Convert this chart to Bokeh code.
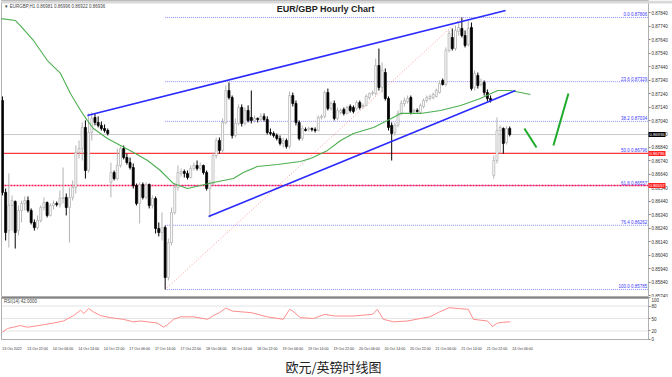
from bokeh.plotting import figure
from bokeh.layouts import column
from bokeh.models import (ColumnDataSource, Span, Label, FixedTicker, Range1d, Title,
                          PrintfTickFormatter, GridBox)
from bokeh.embed import file_html
from bokeh.resources import INLINE
from bokeh.core.properties import value

# ---------------- data (EUR/GBP hourly, 13 Oct 14:00 -> 24 Oct 05:00) ----------------
opens = [0.87189,0.86506,0.86223,0.86409,0.86439,0.86223,0.86372,0.86424,0.86446,0.86372,
         0.86283,0.86245,0.86297,0.86394,0.86431,0.86335,0.86409,0.86424,0.86416,0.86461,
         0.86469,0.86394,0.86469,0.86543,0.86803,0.86832,0.86989,0.86669,0.86951,0.87063,
         0.87026,0.87004,0.86981,0.86966,0.86580,0.86654,0.86609,0.86706,0.86832,0.86765,
         0.86728,0.86691,0.86557,0.86424,0.86565,0.86469,0.86565,0.86409,0.86461,0.86238,
         0.86208,0.86245,0.85874,0.86134,0.86357,0.86543,0.86647,0.86661,0.86647,0.86617,
         0.86684,0.86706,0.86684,0.86706,0.86654,0.86535,0.86572,0.86780,0.86892,0.86818,
         0.87026,0.87263,0.87211,0.86929,0.87019,0.87137,0.87019,0.87115,0.87063,0.87041,
         0.87056,0.87048,0.87071,0.87048,0.86951,0.86944,0.86929,0.86907,0.86870,0.86892,
         0.86847,0.87226,0.87167,0.87026,0.86907,0.86974,0.86974,0.86981,0.86974,0.86966,
         0.87063,0.87071,0.87248,0.87130,0.87167,0.87056,0.87100,0.87122,0.87093,0.87145,
         0.87137,0.87130,0.87174,0.87145,0.87152,0.87211,0.87241,0.87241,0.87449,0.87286,
         0.87397,0.87204,0.87004,0.86951,0.87004,0.87093,0.87167,0.87182,0.87211,0.87108,
         0.87115,0.87100,0.87145,0.87189,0.87204,0.87211,0.87219,0.87248,0.87338,0.87308,
         0.87560,0.87657,0.87575,0.87702,0.87724,0.87672,0.87605,0.87731,0.87286,0.87375,
         0.87308,0.87323,0.87248,0.87204,0.86632,0.86743,0.86966,0.86981,0.86877,0.86981]
highs = [0.87219,0.86535,0.86647,0.86484,0.86446,0.86409,0.86446,0.86476,0.86476,0.86387,
         0.86305,0.86335,0.86409,0.86469,0.86439,0.86424,0.86446,0.86439,0.86520,0.86691,
         0.86498,0.86543,0.86595,0.86855,0.86892,0.87026,0.87041,0.87093,0.87100,0.87093,
         0.87071,0.87033,0.87011,0.86981,0.86728,0.86669,0.86832,0.86847,0.86855,0.86795,
         0.86765,0.86721,0.86572,0.86580,0.86580,0.86580,0.86572,0.86484,0.86476,0.86283,
         0.86357,0.86260,0.86164,0.86394,0.86572,0.86706,0.86684,0.86676,0.86669,0.86706,
         0.86728,0.86743,0.86728,0.86713,0.86669,0.86595,0.86803,0.86914,0.86914,0.87056,
         0.87300,0.87323,0.87226,0.87056,0.87160,0.87160,0.87137,0.87152,0.87263,0.87078,
         0.87063,0.87093,0.87093,0.87071,0.86981,0.86959,0.86944,0.86929,0.86914,0.86907,
         0.87256,0.87248,0.87189,0.87041,0.87004,0.86989,0.86996,0.86989,0.86989,0.87078,
         0.87085,0.87263,0.87278,0.87182,0.87189,0.87137,0.87130,0.87137,0.87152,0.87160,
         0.87152,0.87189,0.87189,0.87167,0.87234,0.87248,0.87263,0.87501,0.87575,0.87471,
         0.87427,0.87219,0.87026,0.87026,0.87115,0.87189,0.87211,0.87226,0.87226,0.87130,
         0.87130,0.87167,0.87204,0.87226,0.87234,0.87248,0.87278,0.87338,0.87352,0.87583,
         0.87709,0.87724,0.87746,0.87768,0.87806,0.87709,0.87783,0.87768,0.87412,0.87397,
         0.87352,0.87338,0.87271,0.87226,0.86780,0.87063,0.87004,0.86989,0.86996,0.86996]
lows = [0.86484,0.86149,0.86097,0.86223,0.86089,0.86186,0.86283,0.86372,0.86357,0.86268,
        0.86223,0.86231,0.86283,0.86372,0.86320,0.86327,0.86379,0.86401,0.86394,0.86424,
        0.86335,0.86134,0.86446,0.86498,0.86758,0.86743,0.86609,0.86654,0.86892,0.87004,
        0.86989,0.86966,0.86951,0.86929,0.86469,0.86595,0.86595,0.86691,0.86751,0.86713,
        0.86676,0.86535,0.86409,0.86275,0.86454,0.86454,0.86387,0.86387,0.86201,0.86179,
        0.86149,0.85785,0.85852,0.86112,0.86342,0.86520,0.86624,0.86617,0.86602,0.86609,
        0.86669,0.86669,0.86669,0.86639,0.86520,0.86320,0.86557,0.86758,0.86795,0.86803,
        0.87011,0.87196,0.86907,0.86914,0.87004,0.86996,0.87004,0.87026,0.87019,0.87026,
        0.87026,0.87033,0.87033,0.86936,0.86929,0.86914,0.86892,0.86855,0.86840,0.86832,
        0.86832,0.87145,0.87004,0.86892,0.86892,0.86959,0.86959,0.86959,0.86951,0.86959,
        0.87048,0.87056,0.87115,0.87115,0.87041,0.87041,0.87085,0.87078,0.87085,0.87100,
        0.87093,0.87115,0.87122,0.87130,0.87145,0.87196,0.87226,0.87226,0.87263,0.87248,
        0.87189,0.86966,0.86743,0.86929,0.86989,0.87078,0.87145,0.87167,0.87085,0.87093,
        0.87100,0.87093,0.87130,0.87174,0.87189,0.87196,0.87211,0.87241,0.87300,0.87293,
        0.87546,0.87560,0.87560,0.87672,0.87657,0.87583,0.87590,0.87263,0.87263,0.87278,
        0.87293,0.87226,0.87182,0.87174,0.86609,0.86721,0.86795,0.86795,0.86862,0.86922]
closes = [0.86506,0.86208,0.86409,0.86446,0.86208,0.86372,0.86424,0.86446,0.86372,0.86283,
          0.86245,0.86297,0.86394,0.86431,0.86335,0.86409,0.86424,0.86416,0.86461,0.86469,
          0.86394,0.86469,0.86543,0.86803,0.86832,0.86989,0.86669,0.86951,0.87056,0.87026,
          0.87004,0.86981,0.86966,0.86944,0.86654,0.86609,0.86706,0.86832,0.86765,0.86728,
          0.86691,0.86557,0.86424,0.86565,0.86469,0.86565,0.86409,0.86461,0.86238,0.86208,
          0.86245,0.85874,0.86134,0.86357,0.86543,0.86654,0.86661,0.86647,0.86617,0.86684,
          0.86706,0.86684,0.86706,0.86654,0.86535,0.86572,0.86780,0.86892,0.86818,0.87026,
          0.87263,0.87211,0.86929,0.87019,0.87137,0.87019,0.87115,0.87041,0.87041,0.87056,
          0.87048,0.87071,0.87048,0.86951,0.86944,0.86929,0.86907,0.86870,0.86892,0.86847,
          0.87226,0.87167,0.87026,0.86907,0.86981,0.86966,0.86981,0.86974,0.86966,0.87063,
          0.87071,0.87248,0.87130,0.87167,0.87056,0.87115,0.87115,0.87093,0.87137,0.87115,
          0.87108,0.87174,0.87137,0.87152,0.87219,0.87241,0.87248,0.87449,0.87286,0.87412,
          0.87204,0.86989,0.86944,0.87004,0.87093,0.87167,0.87189,0.87204,0.87100,0.87115,
          0.87108,0.87152,0.87189,0.87211,0.87219,0.87234,0.87263,0.87315,0.87308,0.87560,
          0.87687,0.87575,0.87709,0.87731,0.87672,0.87598,0.87724,0.87278,0.87390,0.87300,
          0.87330,0.87248,0.87204,0.87189,0.86743,0.86966,0.86989,0.86870,0.86981,0.86936]

# moving average (green) sampled along its path: bar position, price
ma_bar = [-0.6, 4.1, 5.6, 9.7, 14.1, 18.2, 21.3, 24.5, 26.6, 28.5, 32.9, 37.0, 41.1, 45.5, 49.5,
          53.6, 58.0, 62.1, 66.1, 72.4, 75.5, 79.9, 86.2, 93.4, 96.6, 101.9, 106.0, 110.0, 116.3,
          120.7, 124.8, 131.0, 137.3, 143.6, 149.8, 155.2, 159.2, 165.5]
ma_val = [0.87798, 0.87783, 0.87746, 0.87635, 0.87486, 0.87390, 0.87241, 0.87115, 0.87041, 0.86981,
          0.86907, 0.86855, 0.86803, 0.86743, 0.86669, 0.86572, 0.86535, 0.86557, 0.86580, 0.86609,
          0.86654, 0.86699, 0.86713, 0.86736, 0.86758, 0.86818, 0.86892, 0.86944, 0.86989, 0.87041,
          0.87093, 0.87093, 0.87115, 0.87152, 0.87204, 0.87263, 0.87263, 0.87234]

# RSI(14) sampled along its path
rsi_bar = [0, 1.6, 3.4, 5.6, 7.8, 9.7, 12.9, 16, 19.1, 22.3, 24.5, 25.5, 27, 28.5, 30.7, 33.9, 37.9,
           41, 43.3, 45.5, 48.6, 50.5, 51.7, 53.6, 55.8, 59.9, 64.3, 66.1, 68, 70, 72, 75, 78, 83,
           88, 90, 91, 93.4, 97.5, 101, 104, 110, 116, 117.5, 119.4, 122.6, 127, 131, 134, 137,
           140, 143, 146, 147.6, 152, 153.6, 155.2, 157, 159.2]
rsi_val = [17, 26, 29, 33, 29, 31, 35, 39, 44, 57, 70, 62, 74, 66, 57, 52, 48, 42, 44, 42, 39, 29,
           35, 48, 54, 54, 48, 57, 64, 75, 68, 66, 64, 54, 48, 72, 68, 52, 50, 60, 56, 56, 60, 72,
           48, 42, 44, 50, 54, 66, 76, 74, 72, 48, 44, 31, 39, 41, 42]
rsi_levels = [20, 50, 80]
rsi_ticks = [0, 20, 50, 80, 100]

# Fibonacci retracement (low 17 Oct -> high 21 Oct)
fib_ratio = [0.0, 23.6, 38.2, 50.0, 61.8, 76.4, 100.0]
fib_price = [0.87806, 0.87329, 0.87034, 0.86796, 0.86557, 0.86262, 0.85785]
fib_from_bar = 51
fib_to_bar = 144

# trend channel lines (bar, price)
chan_up_bar = [26.6, 157.7]
chan_up_val = [0.87077, 0.87858]
chan_lo_bar = [64.6, 160.8]
chan_lo_val = [0.86327, 0.87263]

# projected path arrows
arrow1_bar = [163.6, 167.4]
arrow1_val = [0.86981, 0.86840]
arrow2_bar = [172.7, 177.4]
arrow2_val = [0.86855, 0.87241]

support_solid = 0.86796
support_dash = 0.86557

price_ticks = [0.8574, 0.8584, 0.8594, 0.8604, 0.8614, 0.8624, 0.8634, 0.8644, 0.8654, 0.8664, 0.8674,
               0.8684, 0.8694, 0.8704, 0.8714, 0.8724, 0.8734, 0.8744, 0.8754, 0.8764, 0.8774, 0.8784]
x_label_bar = [0, 8, 16, 24, 32, 40, 48, 56, 64, 72, 80, 88, 96, 104, 112, 120, 128, 136, 144, 152, 160]
x_labels = ["13 Oct 2022", "13 Oct 22:00", "14 Oct 06:00", "14 Oct 14:00", "14 Oct 22:00",
            "17 Oct 06:00", "17 Oct 14:00", "17 Oct 22:00", "18 Oct 06:00", "18 Oct 14:00",
            "18 Oct 22:00", "19 Oct 06:00", "19 Oct 14:00", "19 Oct 22:00", "20 Oct 06:00",
            "20 Oct 14:00", "20 Oct 22:00", "21 Oct 06:00", "21 Oct 14:00", "21 Oct 22:00",
            "24 Oct 06:00"]

# ---------------- layout ----------------
X0, X1 = -0.3, 202.5
P_TOP, P_BOT = 0.87932, 0.857253
HEADER_BOTTOM = 0.87910
FONT = value("Liberation Sans")

xr = Range1d(X0, X1)
yr = Range1d(P_BOT, P_TOP)
p1 = figure(width=672, height=297, x_range=xr, y_range=yr,
            x_axis_location=None, y_axis_location="right", toolbar_location=None,
            output_backend="svg", min_border_left=1, min_border_right=24,
            min_border_top=0, min_border_bottom=0)
p1.grid.visible = False
p1.outline_line_color = "#b0b0b0"
p1.background_fill_color = "white"

# current price line
last_close = closes[-1]
p1.line([X0, X1], [last_close, last_close], color="#c8c8c8", line_width=1)

# fib lines
for r, lv in zip(fib_ratio, fib_price):
    p1.line([fib_from_bar, X1], [lv, lv], color="#8c8cff", line_width=1, line_dash="1 1")
p1.line([fib_from_bar, fib_to_bar], [fib_price[-1], fib_price[0]], color="#ff9a9a",
        line_width=1, line_dash="1 2")
fib_src = ColumnDataSource(dict(x=[X1 - 0.4] * len(fib_ratio), y=fib_price,
                                t=["%.1f %.5f" % (r, lv) for r, lv in zip(fib_ratio, fib_price)]))
p1.text(x="x", y="y", text="t", source=fib_src, text_align="right", text_baseline="bottom",
        text_font_size="4.5px", text_color="#3c3cff", text_font=FONT)

# red horizontal lines
p1.line([X0, X1], [support_solid, support_solid], color="#ff3b3b", line_width=1.3)
p1.line([X0, X1], [support_dash, support_dash], color="#ff1050", line_width=1.5, line_dash="2 1")

# candles
n = len(opens)
bx = list(range(n))
up = [c >= o for o, c in zip(opens, closes)]
def pick(arr, flag):
    return [a for a, f in zip(arr, up) if f == flag]
for flag, fill, edge in [(True, "white", "#b4b4b4"), (False, "black", "black")]:
    src = ColumnDataSource(dict(x=pick(bx, flag), o=pick(opens, flag), h=pick(highs, flag),
                                l=pick(lows, flag), c=pick(closes, flag)))
    p1.segment(x0="x", y0="h", x1="x", y1="l", source=src, color=edge, line_width=1)
    p1.vbar(x="x", width=0.62, top="o", bottom="c", source=src, fill_color=fill,
            line_color=edge, line_width=0.8)

# moving average
p1.line(ma_bar, ma_val, color="#4caf50", line_width=1.1)

# channel
p1.line(chan_up_bar, chan_up_val, color="#2a2aff", line_width=1.6)
p1.line(chan_lo_bar, chan_lo_val, color="#2a2aff", line_width=1.6)

# arrows
p1.line(arrow1_bar, arrow1_val, color="#1faa2a", line_width=2)
p1.line(arrow2_bar, arrow2_val, color="#1faa2a", line_width=2)

# texts
p1.add_layout(Label(x=0.5, y=0.87891, text="▼ EURGBP,H1  %.5f %.5f %.5f %.5f" % (opens[-1], highs[-1], lows[-1], closes[-1]),
                    text_font_size="4.5px", text_color="#444444", text_baseline="middle",
                    text_font="Liberation Sans"))
p1.add_layout(Label(x=101.3, y=0.87872, text="EUR/GBP Hourly Chart", text_font_size="9px",
                    text_font_style="bold", text_color="#222222", text_align="center",
                    text_baseline="middle", text_font="Liberation Sans"))

ax = p1.yaxis[0]
ax.ticker = FixedTicker(ticks=price_ticks)
ax.formatter = PrintfTickFormatter(format="%.5f")
ax.major_label_text_font_size = "4.5px"
ax.major_label_text_color = "#333333"
ax.major_label_text_font = "Liberation Sans"
ax.major_tick_out = 2
ax.major_tick_in = 0
ax.major_tick_line_color = "#888888"
ax.minor_tick_line_color = None
ax.axis_line_color = None
ax.major_label_standoff = 1

# ---------------- RSI panel ----------------
p2 = figure(width=672, height=80, x_range=xr, y_range=Range1d(-0.56, 100.56),
            y_axis_location="right", toolbar_location=None, output_backend="svg",
            min_border_left=1, min_border_right=24, min_border_top=0, min_border_bottom=26)
p2.grid.visible = False
p2.outline_line_color = "#b0b0b0"
for lv in rsi_levels:
    p2.line([X0, X1], [lv, lv], color="#c8c8c8", line_width=1, line_dash="1 1")
p2.line(rsi_bar, rsi_val, color="#ff8c8c", line_width=1)
p2.add_layout(Span(location=100.3, dimension="width", line_color="#555555", line_width=2))
p2.add_layout(Label(x=0.5, y=92, text="RSI(14) %.4f" % rsi_val[-1], text_font_size="4.5px",
                    text_color="#444444", text_baseline="middle", text_font="Liberation Sans"))

ay = p2.yaxis[0]
ay.ticker = FixedTicker(ticks=rsi_ticks)
ay.major_label_text_font_size = "4.5px"
ay.major_label_text_color = "#333333"
ay.major_tick_out = 2
ay.major_tick_in = 0
ay.major_tick_line_color = "#888888"
ay.minor_tick_line_color = None
ay.axis_line_color = None
ay.major_label_standoff = 1

axx = p2.xaxis[0]
axx.ticker = FixedTicker(ticks=[b + 3 for b in x_label_bar])
axx.major_label_overrides = {b + 3: t for b, t in zip(x_label_bar, x_labels)}
axx.major_label_text_font_size = "3.6px"
axx.major_label_text_color = "#333333"
axx.major_label_text_font = "Liberation Sans"
axx.major_tick_line_color = None
axx.minor_tick_line_color = None
axx.axis_line_color = None
axx.major_label_standoff = 1

p2.add_layout(Title(text="欧元/英镑时线图", align="left", offset=284, text_font_size="13px",
                    text_font="Noto Sans CJK SC", text_font_style="normal",
                    text_color="#222222", standoff=3), "below")

main = column(p1, p2, spacing=0)

# ---------------- transparent overlay: header band and price boxes on the axis ----------------
ov = figure(width=672, height=297, x_range=Range1d(0, 672), y_range=yr,
            x_axis_location=None, y_axis_location=None, toolbar_location=None,
            output_backend="svg", min_border=0)
ov.grid.visible = False
ov.outline_line_color = None
ov.background_fill_alpha = 0
ov.border_fill_alpha = 0
ov.quad(left=[0], right=[672], top=[P_TOP], bottom=[HEADER_BOTTOM], color="#d9d9d9", line_color=None)
box_val = [last_close, support_solid, support_dash]
box_col = ["black", "#ff2020", "#ff2020"]
box_src = ColumnDataSource(dict(x=[656.5] * 3, y=box_val, c=box_col,
                                t=["%.5f" % v for v in box_val]))
ov.rect(x="x", y="y", width=17, height=5, width_units="screen", height_units="screen",
        source=box_src, fill_color="c", line_color=None)
ov.text(x="x", y="y", text="t", source=box_src, text_align="center", text_baseline="middle",
        text_font_size="4.2px", text_color="white", text_font=FONT)

grid = GridBox(children=[(main, 0, 0), (ov, 0, 0)], spacing=0)
open("out.html", "w").write(file_html(grid, INLINE))
